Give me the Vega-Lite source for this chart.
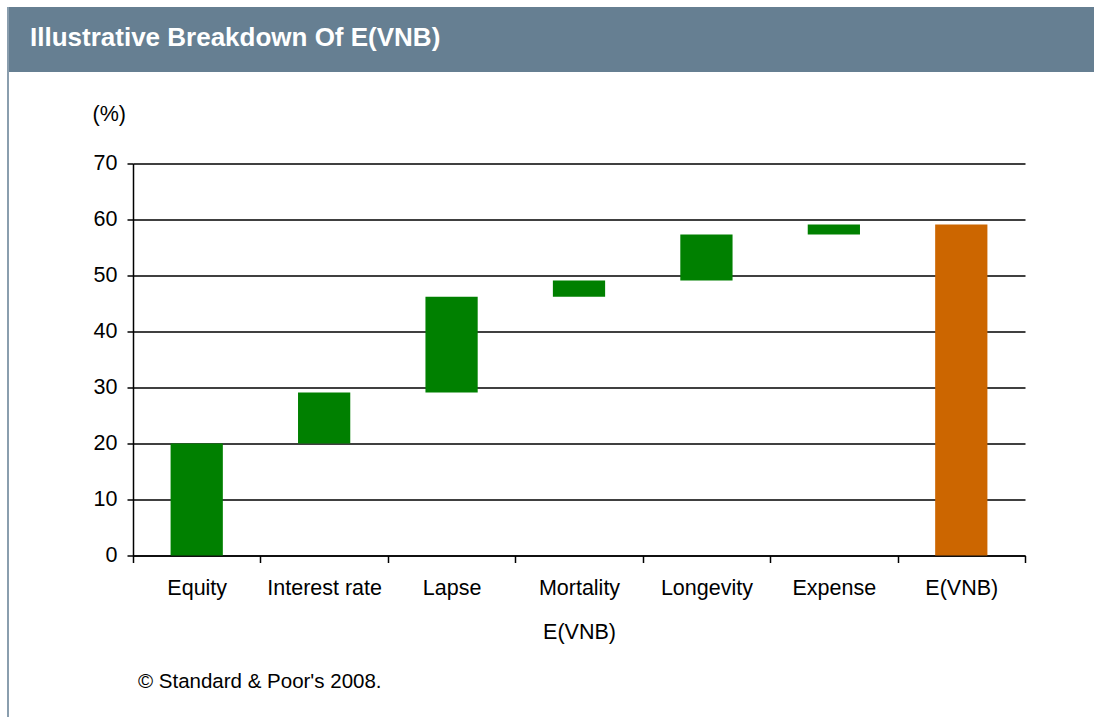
{
  "$schema": "https://vega.github.io/schema/vega-lite/v6.json",
  "background": "white",
  "padding": {"left": 7, "top": 7, "right": 0, "bottom": 0},
  "spacing": 0,
  "config": {
    "view": {"stroke": null},
    "font": "Liberation Sans",
    "title": {"font": "Liberation Sans"}
  },
  "hconcat": [
    {
      "width": 2,
      "height": 710,
      "data": {"values": [{"part": "left border"}]},
      "mark": {"type": "rect", "color": "#8a9eae"},
      "encoding": {}
    },
    {
      "spacing": 30.5,
      "vconcat": [
        {
          "width": 1085,
          "height": 65,
          "data": {"values": [{"part": "header"}]},
          "mark": {"type": "rect", "color": "#667f92"},
          "encoding": {},
          "title": {
            "text": "Illustrative Breakdown Of E(VNB)",
            "orient": "top",
            "anchor": "start",
            "frame": "group",
            "baseline": "alphabetic",
            "offset": -65,
            "dx": 21,
            "font": "Liberation Sans",
            "fontSize": 26,
            "fontWeight": "bold",
            "color": "white"
          }
        },
        {
          "spacing": 0,
          "hconcat": [
            {
              "width": 1,
              "height": 1,
              "data": {"values": [{"part": "spacer"}]},
              "mark": {"type": "rect", "opacity": 0},
              "encoding": {}
            },
            {
              "width": 892,
              "height": 392,
              "data": {
                "values": [
                  {"cat": "Equity", "start": 0, "end": 20, "kind": "component"},
                  {"cat": "Interest rate", "start": 20, "end": 29.1, "kind": "component"},
                  {"cat": "Lapse", "start": 29.1, "end": 46.2, "kind": "component"},
                  {"cat": "Mortality", "start": 46.2, "end": 49.1, "kind": "component"},
                  {"cat": "Longevity", "start": 49.1, "end": 57.3, "kind": "component"},
                  {"cat": "Expense", "start": 57.3, "end": 59.1, "kind": "component"},
                  {"cat": "E(VNB)", "start": 0, "end": 59.1, "kind": "total"}
                ]
              },
              "title": {
                "text": "© Standard & Poor's 2008.",
                "orient": "bottom",
                "anchor": "start",
                "frame": "group",
                "offset": 29,
                "dx": 5,
                "font": "Liberation Sans",
                "fontSize": 20.5,
                "fontWeight": "normal",
                "color": "black"
              },
              "mark": {"type": "bar", "width": {"band": 0.41}},
              "encoding": {
                "x": {
                  "field": "cat",
                  "type": "nominal",
                  "sort": null,
                  "scale": {"paddingInner": 0, "paddingOuter": 0},
                  "axis": {
                    "title": "E(VNB)",
                    "labelAngle": 0,
                    "tickBand": "extent",
                    "domainColor": "black",
                    "domainWidth": 1.5,
                    "tickColor": "black",
                    "tickWidth": 1.5,
                    "tickSize": 7,
                    "labelPadding": 15,
                    "labelFontSize": 21.5,
                    "labelColor": "black",
                    "titleFontSize": 21.5,
                    "titleFontWeight": "normal",
                    "titleColor": "black",
                    "titlePadding": 22,
                    "grid": false
                  }
                },
                "y": {
                  "field": "start",
                  "type": "quantitative",
                  "scale": {"domain": [0, 70]},
                  "axis": {
                    "title": "(%)",
                    "titleAngle": 0,
                    "titleAlign": "left",
                    "titleBaseline": "alphabetic",
                    "titleX": -41,
                    "titleY": -43.5,
                    "titleFontSize": 21.5,
                    "titleFontWeight": "normal",
                    "titleColor": "black",
                    "values": [0, 10, 20, 30, 40, 50, 60, 70],
                    "grid": true,
                    "gridColor": "black",
                    "gridOpacity": 1,
                    "gridWidth": 1.5,
                    "domainColor": "black",
                    "domainWidth": 1.5,
                    "tickColor": "black",
                    "tickWidth": 1.5,
                    "tickSize": 6,
                    "labelPadding": 10,
                    "labelFontSize": 21.5,
                    "labelColor": "black",
                    "minExtent": 123
                  }
                },
                "y2": {"field": "end"},
                "color": {
                  "field": "kind",
                  "type": "nominal",
                  "scale": {"domain": ["component", "total"], "range": ["#008000", "#cc6600"]},
                  "legend": null
                }
              }
            }
          ]
        }
      ]
    }
  ]
}
